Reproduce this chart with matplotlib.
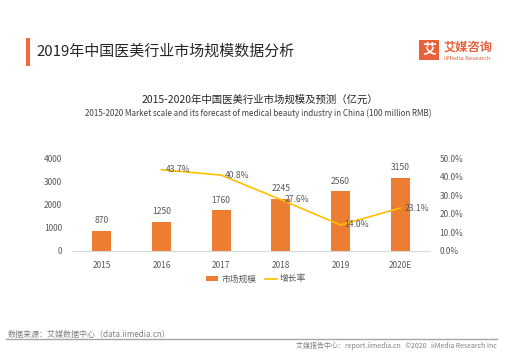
import matplotlib
matplotlib.use('Agg')
import matplotlib.pyplot as plt
from matplotlib.patches import Rectangle
from matplotlib.lines import Line2D
from matplotlib.ticker import FuncFormatter

plt.rcParams['font.family'] = ['Noto Sans CJK SC', 'DejaVu Sans']

# 数据
years = ['2015', '2016', '2017', '2018', '2019', '2020E']
market = [870, 1250, 1760, 2245, 2560, 3150]
growth_years = ['2016', '2017', '2018', '2019', '2020E']
growth = [43.7, 40.8, 27.6, 14.0, 23.1]

ORANGE = '#ED7D31'
GOLD = '#FFC000'
GREY = '#595959'

W, H = 514, 360
fig = plt.figure(figsize=(W / 100, H / 100), dpi=100)


def fx(x):
    return x / W


def fy(y):
    return 1 - y / H


# 标题栏
fig.add_artist(Rectangle((fx(26), fy(66)), fx(4), 28 / H, color='#F26B3A',
                         transform=fig.transFigure, lw=0))
fig.text(fx(36), fy(51), '2019年中国医美行业市场规模数据分析', fontsize=10.8,
         color='#262626', va='center', ha='left')

# logo
fig.add_artist(Rectangle((fx(419), fy(60)), 20 / W, 20 / H, color='#E8613A',
                         transform=fig.transFigure, lw=0))
fig.text(fx(429), fy(50), '艾', fontsize=10, color='white', ha='center',
         va='center', fontweight='bold')
fig.text(fx(444), fy(47), '艾媒咨询', fontsize=8.8, color='#E8613A', ha='left',
         va='center', fontweight='bold')
fig.text(fx(444), fy(58), 'iiMedia Research', fontsize=4.0, color='#E8613A',
         ha='left', va='center', family=['DejaVu Sans'])

# 图表标题
fig.text(fx(260), fy(100), '2015-2020年中国医美行业市场规模及预测（亿元）',
         fontsize=7.5, color='#262626', ha='center', va='center')
fig.text(fx(258), fy(113),
         '2015-2020 Market scale and its forecast of medical beauty industry in China (100 million RMB)',
         fontsize=5.8, color='#404040', ha='center', va='center')

# 主图
ax = fig.add_axes([fx(72), fy(251), (430 - 72) / W, (251 - 158) / H])
x = list(range(len(years)))
bars = ax.bar(x, market, width=0.32, color=ORANGE, label='市场规模', zorder=2)
ax.set_ylim(0, 4000)
ax.set_xlim(-0.5, len(years) - 0.5)
ax.set_yticks([0, 1000, 2000, 3000, 4000])
ax.set_xticks(x)
ax.set_xticklabels(years)
for s in ['top', 'left', 'right']:
    ax.spines[s].set_visible(False)
ax.spines['bottom'].set_color('#D9D9D9')
ax.tick_params(length=0, labelsize=6, colors=GREY)
ax.tick_params(axis='x', pad=7)
ax.tick_params(axis='y', pad=7)
for xi, v in zip(x, market):
    ax.annotate(str(v), (xi, v), xytext=(0, 4), textcoords='offset points',
                ha='center', va='bottom', fontsize=6.2, color=GREY)

ax2 = ax.twinx()
gx = [years.index(y) for y in growth_years]
line, = ax2.plot(gx, growth, color=GOLD, lw=1.2, label='增长率', zorder=3)
ax2.set_ylim(0, 50)
ax2.set_yticks([0, 10, 20, 30, 40, 50])
ax2.yaxis.set_major_formatter(FuncFormatter(lambda v, p: f'{v:.1f}%'))
for s in ['top', 'left', 'right', 'bottom']:
    ax2.spines[s].set_visible(False)
ax2.tick_params(length=0, labelsize=6, colors=GREY, pad=7)
for xi, v in zip(gx, growth):
    ax2.annotate(f'{v:.1f}%', (xi, v), xytext=(3, 0), textcoords='offset points',
                 ha='left', va='center', fontsize=6.2, color=GREY)

# 图例
fig.legend(handles=[bars, line], labels=['市场规模', '增长率'], loc='center',
           bbox_to_anchor=(fx(256), fy(279)), ncol=2, frameon=False,
           fontsize=6.3, handlelength=1.4, handleheight=0.4, columnspacing=1.0,
           handletextpad=0.3, labelcolor=GREY)

# 页脚
fig.text(fx(8), fy(334), '数据来源：艾媒数据中心（data.iimedia.cn）', fontsize=5.8,
         color='#808080', ha='left', va='center')
fig.add_artist(Line2D([fx(6), fx(497)], [fy(339), fy(339)], color='#A6A6A6',
                      lw=1, transform=fig.transFigure))
fig.text(fx(497), fy(346), '艾媒报告中心：report.iimedia.cn   ©2020   iiMedia Research Inc',
         fontsize=5.0, color='#808080', ha='right', va='center')

fig.savefig('out.png', dpi=100, facecolor='white')
